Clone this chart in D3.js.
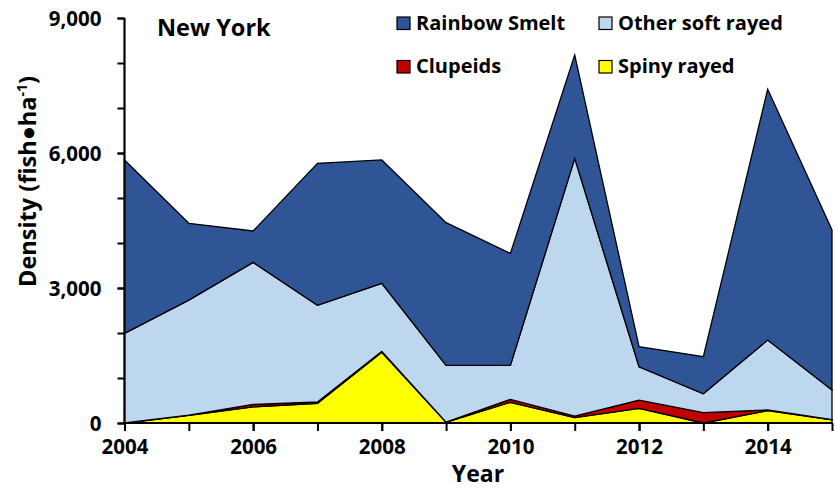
<!DOCTYPE html>
<html>
<head>
<meta charset="utf-8">
<script src="https://cdn.jsdelivr.net/npm/d3@7"></script>
<style>
  html, body { margin: 0; padding: 0; background: #fff; }
  svg { display: block; font-family: "Open Sans", sans-serif; font-weight: bold; }
</style>
</head>
<body>
<svg id="chart" width="835" height="493"></svg>
<script>
const years = [2004, 2005, 2006, 2007, 2008, 2009, 2010, 2011, 2012, 2013, 2014, 2015];
const spinyRayed = [0, 170, 360, 437, 1570, 15, 460, 120, 325, 0, 275, 70];
const clupeids = [0, 5, 55, 30, 20, 5, 65, 35, 185, 230, 15, 5];
const otherSoftRayed = [1990, 2555, 3155, 2148, 1515, 1260, 755, 5725, 740, 420, 1555, 660];
const rainbowSmelt = [3855, 1707, 697, 3155, 2740, 3171, 2490, 2298, 446, 824, 5570, 3555];
const yTickValues = [0, 3000, 6000, 9000];
const yMinorTicks = [0, 1000, 2000, 3000, 4000, 5000, 6000, 7000, 8000, 9000];
const xLabelYears = [2004, 2006, 2008, 2010, 2012, 2014];

const seriesNames = ["Spiny rayed", "Clupeids", "Other soft rayed", "Rainbow Smelt"];
const seriesColors = { "Spiny rayed": "#FFFF00", "Clupeids": "#C00000", "Other soft rayed": "#BDD7EE", "Rainbow Smelt": "#2F5597" };
const seriesData = { "Spiny rayed": spinyRayed, "Clupeids": clupeids, "Other soft rayed": otherSoftRayed, "Rainbow Smelt": rainbowSmelt };

const table = years.map((yr, i) => {
  const row = { year: yr };
  seriesNames.forEach(n => row[n] = seriesData[n][i]);
  return row;
});

const svg = d3.select("#chart");
const x = d3.scaleLinear().domain([2004, 2015]).range([124.5, 832]);
const y = d3.scaleLinear().domain([0, 9000]).range([423, 18]);

const stack = d3.stack().keys(seriesNames);
const layers = stack(table);

const area = d3.area()
  .x(d => x(d.data.year))
  .y0(d => y(d[0]))
  .y1(d => y(d[1]));

svg.append("g").selectAll("path")
  .data(layers)
  .join("path")
  .attr("d", area)
  .attr("fill", d => seriesColors[d.key])
  .attr("stroke", "#000")
  .attr("stroke-width", 1.3)
  .attr("stroke-linejoin", "miter");

// Y axis
const yAxisMinor = d3.axisLeft(y).tickValues(yMinorTicks).tickSize(7).tickFormat("");
const gyMinor = svg.append("g").attr("transform", "translate(124.5,0)").call(yAxisMinor);
gyMinor.select(".domain").remove();
gyMinor.selectAll("line").attr("stroke", "#000").attr("stroke-width", 2);

const yAxis = d3.axisLeft(y).tickValues(yTickValues).tickSize(7).tickPadding(16).tickFormat(d3.format(","));
const gy = svg.append("g").attr("transform", "translate(124.5,0)").call(yAxis);
gy.select(".domain").attr("stroke", "#000").attr("stroke-width", 2.2).attr("d", `M0,${y(9000)}V${y(0)}`);
gy.selectAll("line").attr("stroke", "#000").attr("stroke-width", 2);
gy.selectAll("text").attr("font-size", 20.5).attr("font-family", "'Open Sans', sans-serif").attr("font-weight", "bold").attr("fill", "#000").attr("dy", "0.36em");

// X axis
const xAxisMinor = d3.axisBottom(x).tickValues(years).tickSize(8).tickFormat("");
const gxMinor = svg.append("g").attr("transform", "translate(0,423)").call(xAxisMinor);
gxMinor.select(".domain").remove();
gxMinor.selectAll("line").attr("stroke", "#000").attr("stroke-width", 2);

const xAxis = d3.axisBottom(x).tickValues(xLabelYears).tickSize(8).tickPadding(8).tickFormat(d3.format("d"));
const gx = svg.append("g").attr("transform", "translate(0,423)").call(xAxis);
gx.select(".domain").attr("stroke", "#000").attr("stroke-width", 2.2).attr("d", `M${x(2004)},0H${x(2015)}`);
gx.selectAll("line").attr("stroke", "#000").attr("stroke-width", 2);
gx.selectAll("text").attr("font-size", 20.5).attr("font-family", "'Open Sans', sans-serif").attr("font-weight", "bold").attr("fill", "#000");

// Axis titles
svg.append("text")
  .attr("x", 478).attr("y", 482)
  .attr("text-anchor", "middle")
  .attr("font-size", 23)
  .text("Year");

const yTitle = svg.append("text")
  .attr("transform", "translate(35.5,181.5) rotate(-90)")
  .attr("text-anchor", "middle")
  .attr("font-size", 23.5);
yTitle.append("tspan").text("Density (fish\u25CFha");
yTitle.append("tspan").attr("baseline-shift", "super").attr("font-size", 14).text("-1");
yTitle.append("tspan").text(")");

// Panel title
svg.append("text")
  .attr("x", 157).attr("y", 36)
  .attr("font-size", 23.5)
  .text("New York");

// Legend
const legendItems = [
  { name: "Rainbow Smelt", col: 0, row: 0 },
  { name: "Other soft rayed", col: 1, row: 0 },
  { name: "Clupeids", col: 0, row: 1 },
  { name: "Spiny rayed", col: 1, row: 1 }
];
const legendX = [397, 599];
const legendY = [29.5, 73];
const lg = svg.append("g");
legendItems.forEach(it => {
  const gx0 = legendX[it.col], gy0 = legendY[it.row];
  lg.append("rect")
    .attr("x", gx0).attr("y", gy0 - 12.5)
    .attr("width", 13).attr("height", 12.5)
    .attr("fill", seriesColors[it.name])
    .attr("stroke", "#000").attr("stroke-width", 1.2);
  lg.append("text")
    .attr("x", gx0 + 19).attr("y", gy0)
    .attr("font-size", 20)
    .text(it.name);
});
</script>
</body>
</html>
